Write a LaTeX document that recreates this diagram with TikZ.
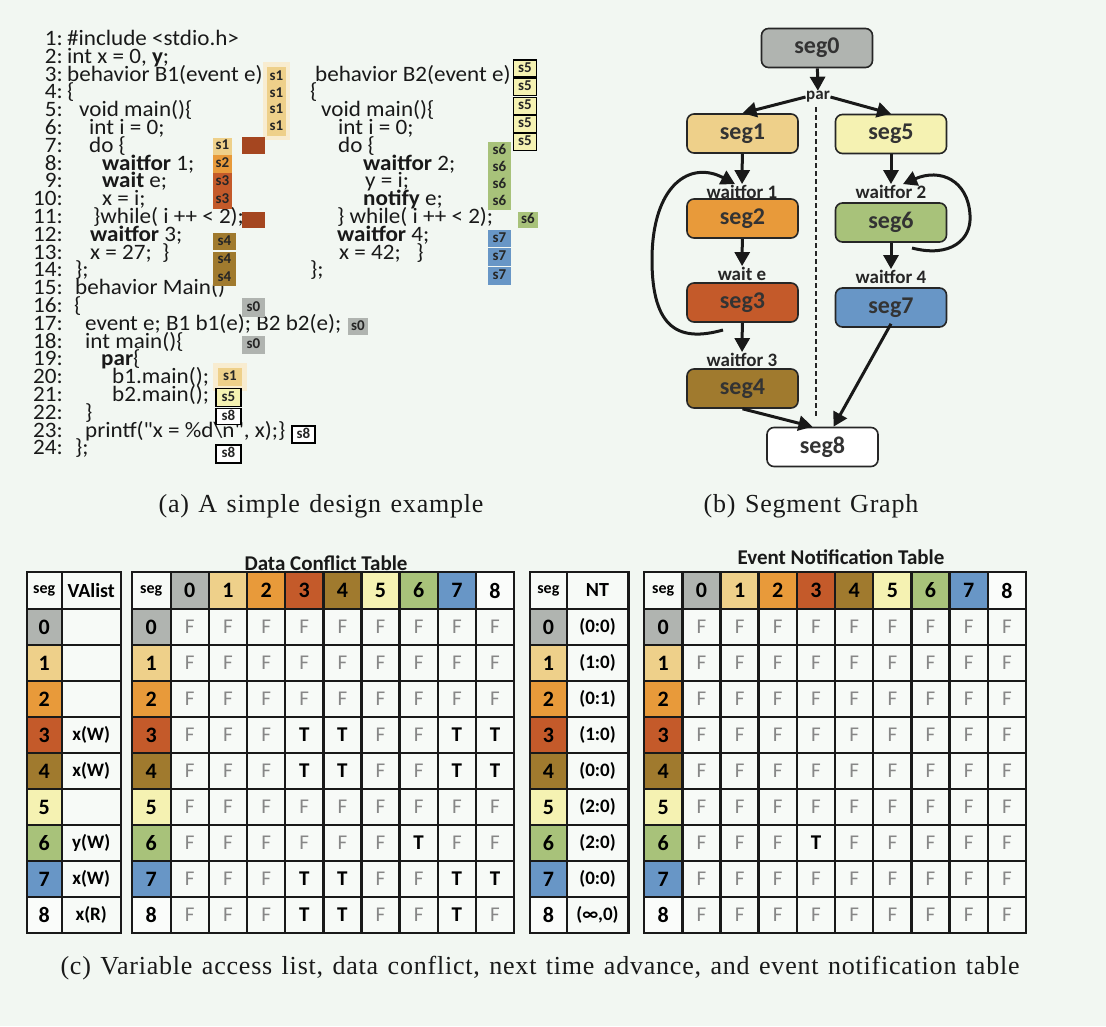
\documentclass[tikz,border=0pt]{standalone}
\usepackage{fontspec}
\setmainfont{Liberation Serif}
\newfontfamily\codef[FakeStretch=1.05]{Carlito}
\newfontfamily\carl{Carlito}
\newfontfamily\capf[LetterSpace=3,WordSpace={1.3}]{Liberation Serif}
\usetikzlibrary{arrows.meta}
\definecolor{sc0}{RGB}{176,180,176}
\definecolor{sc1}{RGB}{238,208,138}
\definecolor{sc2}{RGB}{232,154,58}
\definecolor{sc3}{RGB}{196,90,42}
\definecolor{sc4}{RGB}{160,122,46}
\definecolor{sc5}{RGB}{245,242,178}
\definecolor{sc6}{RGB}{168,194,122}
\definecolor{sc7}{RGB}{104,150,198}
\definecolor{sc8}{RGB}{250,252,250}
\definecolor{bgc}{RGB}{242,247,242}
\definecolor{cellbg}{RGB}{247,250,247}
\definecolor{brick}{RGB}{165,70,32}
\definecolor{fgray}{RGB}{135,135,135}
\newcommand\numf{\carl\bfseries\fontsize{22}{24}\selectfont}
\newcommand\segf{\carl\bfseries\fontsize{16}{18}\selectfont}
\newcommand\vaf{\carl\bfseries\fontsize{19}{21}\selectfont}
\newcommand\tff{\carl\fontsize{21}{23}\selectfont}
\newcommand\tfmark[1]{\if#1T\textbf{T}\else\textcolor{fgray}{F}\fi}
\begin{document}
\begin{tikzpicture}[x=1pt,y=-1pt,
  codeln/.style={anchor=west, inner sep=0pt, font=\codef\fontsize{22}{24}\selectfont, text=black!90, text height=12pt, text depth=3pt},
  lnum/.style={codeln, anchor=east},
  lab/.style={inner sep=0pt, font=\carl\bfseries\fontsize{15}{16}\selectfont, text=black!85, minimum width=19pt, minimum height=16pt, text height=8pt, text depth=1pt},
  labb/.style={lab, draw=black, line width=1.2pt},
  segbox/.style={draw=black!85, line width=1.6pt, rounded corners=7pt, minimum width=111pt, minimum height=39pt, font=\carl\bfseries\fontsize{24}{26}\selectfont, text=black!80},
  wlab/.style={inner sep=1pt, font=\carl\bfseries\fontsize{19}{20}\selectfont, text=black!85},
  arr/.style={line width=3pt, draw=black!90, -{Triangle[length=14pt,width=15pt]}},
  cell/.style={draw=black!90, line width=2.4pt, fill=cellbg, inner sep=0pt, minimum height=36pt},
  ttl/.style={font=\carl\bfseries\fontsize{21}{22}\selectfont, text=black!90},
  capt/.style={font=\capf\fontsize{26}{28}\selectfont, text=black!90}
]
\fill[bgc] (0,0) rectangle (1106,1026);
\useasboundingbox (0,0) rectangle (1106,1026);

% ---------- (a) code ----------
\foreach \n in {1,...,24} {
  \pgfmathsetmacro\yy{41+17.8*(\n-1)}
  \node[lnum] (ln\n) at (63,\yy) {\n:};
}
\node[codeln] (a1) at (67,41) {\#include <stdio.h>};
\node[codeln] (a2) at (67,58.8) {int x = 0, \textbf{y};};
\node[codeln] (a3) at (67,76.6) {behavior B1(event e)};
\node[codeln] (a4) at (67,94.4) {\{};
\node[codeln] (a5) at (79,112.2) {void main()\{};
\node[codeln] (a6) at (89,130) {int i = 0;};
\node[codeln] (a7) at (89,147.8) {do \{};
\node[codeln] (a8) at (102,165.6) {\textbf{waitfor} 1;};
\node[codeln] (a9) at (102,183.4) {\textbf{wait} e;};
\node[codeln] (a10) at (102,201.2) {x = i;};
\node[codeln] (a11) at (93,219) {\}while( i ++ < 2);};
\node[codeln] (a12) at (90,236.8) {\textbf{waitfor} 3;};
\node[codeln] (a13) at (90,254.6) {x = 27;\ \ \}};
\node[codeln] (a14) at (75,272.4) {\};};
\node[codeln] (a15) at (75,290.2) {behavior Main()};
\node[codeln] (a16) at (74,308) {\{};
\node[codeln] (a17) at (85,325.8) {event e; B1 b1(e); B2 b2(e);};
\node[codeln] (a18) at (85,343.6) {int main()\{};
\node[codeln] (a19) at (101,361.4) {\textbf{par}\{};
\node[codeln] (a20) at (112,379.2) {b1.main();};
\node[codeln] (a21) at (112,397) {b2.main();};
\node[codeln] (a22) at (85,414.8) {\}};
\node[codeln] (a23) at (85,432.6) {printf("x = \%d\textbackslash n", x);\}};
\node[codeln] (a24) at (75,450.4) {\};};

\node[codeln] (b3) at (315,76.6) {behavior B2(event e)};
\node[codeln] (b4) at (310,94.4) {\{};
\node[codeln] (b5) at (321,112.2) {void main()\{};
\node[codeln] (b6) at (338,130) {int i = 0;};
\node[codeln] (b7) at (338,147.8) {do \{};
\node[codeln] (b8) at (363,165.6) {\textbf{waitfor} 2;};
\node[codeln] (b9) at (365,183.4) {y = i;};
\node[codeln] (b10) at (363,201.2) {\textbf{notify} e;};
\node[codeln] (b11) at (337,219) {\} while( i ++ < 2);};
\node[codeln] (b12) at (337,236.8) {\textbf{waitfor} 4;};
\node[codeln] (b13) at (339,254.6) {x = 42;\ \ \ \}};
\node[codeln] (b14) at (310,272.4) {\};};

% segment labels
\fill[sc1!40] (263,62) rectangle (290,140);
\node[fill=sc1, minimum width=19pt, minimum height=69pt, inner sep=0pt] (s1strip) at (276.5,101.5) {};
\node[lab] (l1a) at (276.5,77) {s1};
\node[lab] (l1b) at (276.5,94) {s1};
\node[lab] (l1c) at (276.5,110) {s1};
\node[lab] (l1d) at (276.5,127) {s1};
\node[lab, fill=sc1, minimum height=17pt] (l1e) at (222.5,146) {s1};
\node[fill=brick, minimum width=23pt, minimum height=17pt, inner sep=0pt] (br1) at (253.5,145.5) {};
\node[lab, fill=sc2, minimum height=18pt] (l2) at (222.5,164) {s2};
\node[lab, fill=sc3, minimum height=18pt] (l3a) at (222.5,182) {s3};
\node[lab, fill=sc3, minimum height=18pt] (l3b) at (222.5,200) {s3};
\node[fill=brick, minimum width=23pt, minimum height=16pt, inner sep=0pt] (br2) at (253.5,220) {};
\node[lab, fill=sc4, minimum width=23pt, minimum height=17pt] (l4a) at (224.5,241.5) {s4};
\node[lab, fill=sc4, minimum width=23pt, minimum height=17pt] (l4b) at (224.5,260) {s4};
\node[lab, fill=sc4, minimum width=23pt, minimum height=17pt] (l4c) at (224.5,277.5) {s4};

\foreach \yy [count=\k] in {68.5,87,106,124,142} {
  \node[labb, fill=sc5, minimum width=23pt, minimum height=17pt] (l5\k) at (525,\yy) {s5};
}
\foreach \yy [count=\k] in {150.5,167.5,184.5,201.5} {
  \node[lab, fill=sc6, minimum width=23pt, minimum height=17pt] (l6\k) at (499.5,\yy) {s6};
}
\node[lab, fill=sc6, minimum width=20pt, minimum height=16pt] (l6e) at (528,220) {s6};
\foreach \yy [count=\k] in {238.5,257,276} {
  \node[lab, fill=sc7, minimum width=23pt, minimum height=17.5pt] (l7\k) at (499.5,\yy) {s7};
}
\node[lab, fill=sc0, minimum width=23pt, minimum height=19pt] (l0a) at (253.5,307.5) {s0};
\node[lab, fill=sc0, minimum width=20pt, minimum height=17pt] (l0b) at (358,326.5) {s0};
\node[lab, fill=sc0, minimum width=23pt, minimum height=18pt] (l0c) at (253.5,345) {s0};
\fill[sc1!40] (213,363) rectangle (247,391);
\node[lab, fill=sc1, minimum width=24pt, minimum height=18pt] (l1f) at (230,377) {s1};
\node[labb, fill=sc5, minimum width=25pt, minimum height=18pt] (l5f) at (228.5,397.5) {s5};
\node[labb, fill=white, minimum width=25pt, minimum height=16pt] (l8a) at (228.5,416.5) {s8};
\node[labb, fill=white, minimum width=23pt, minimum height=17pt] (l8b) at (303.5,434.5) {s8};
\node[labb, fill=white, minimum width=25pt, minimum height=18pt] (l8c) at (228.5,454) {s8};

\node[capt] (capa) at (321,506) {(a)\ A simple design example};

% ---------- (b) segment graph ----------
\coordinate (dt) at (816,107);
\coordinate (db) at (816,418);
\draw[line width=1.3pt, dash pattern=on 5pt off 3pt, black!85] (dt) -- (db);
\node[segbox, fill=sc0] (seg0) at (817,48) {seg0};
\node[wlab, font=\carl\bfseries\fontsize{17}{18}\selectfont, fill=bgc, inner sep=0.5pt] (par) at (818,97) {par};
\node[segbox, fill=sc1] (seg1) at (742.5,133.5) {seg1};
\node[segbox, fill=sc5] (seg5) at (891,134) {seg5};
\node[wlab] (w1) at (742,192) {waitfor 1};
\node[segbox, fill=sc2] (seg2) at (742.5,218.5) {seg2};
\node[wlab] (we) at (742,274) {wait e};
\node[segbox, fill=sc3] (seg3) at (742.5,302.5) {seg3};
\node[wlab] (w3) at (742,360) {waitfor 3};
\node[segbox, fill=sc4] (seg4) at (742.5,388.5) {seg4};
\node[wlab] (w2) at (891,192) {waitfor 2};
\node[segbox, fill=sc6] (seg6) at (891,222.5) {seg6};
\node[wlab] (w4) at (891,277) {waitfor 4};
\node[segbox, fill=sc7] (seg7) at (891,307.5) {seg7};
\node[segbox, fill=white] (seg8) at (822.5,447) {seg8};

\draw[arr] (seg0) -- (par);
\draw[arr] (par.west) -- (seg1.north);
\draw[arr] (par.east) -- (seg5.north);
\draw[arr] (seg1) -- (w1);
\draw[arr] (seg2) -- (we);
\draw[arr] (seg3) -- (w3);
\draw[arr] (seg5) -- (w2);
\draw[arr] (seg6) -- (w4);
\draw[arr] (seg4.south) -- ([xshift=-10pt]seg8.north);
\draw[arr] ([yshift=4pt]seg7.south) -- ([xshift=11pt]seg8.north);
\coordinate (lp3) at (723,330);
\draw[arr] (lp3) .. controls (680,342) and (652,330) .. (652,260) .. controls (652,185) and (690,160) .. ([xshift=-7pt]w1.north);
\coordinate (lp6) at (912,248);
\draw[arr] (lp6) .. controls (950,258) and (972,240) .. (970,215) .. controls (968,180) and (940,168) .. ([xshift=12pt]w2.north);

\node[capt] (capb) at (811,506) {(b)\ Segment Graph};

% ---------- (c) tables ----------
% VAlist table
\node[cell, minimum width=35pt, minimum height=37pt, font=\segf] (va-h0) at (44.2,590.5) {seg};
\node[cell, minimum width=59pt, minimum height=37pt, font=\carl\bfseries\fontsize{20}{22}\selectfont] (va-h1) at (91.2,590.5) {VAlist};
\foreach \r/\v in {0/{},1/{},2/{},3/{x(W)},4/{x(W)},5/{},6/{y(W)},7/{x(W)},8/{x(R)}} {
  \pgfmathsetmacro\yy{627+36*\r}
  \node[cell, fill=sc\r, minimum width=35pt, font=\numf] (va-s\r) at (44.2,\yy) {\r};
  \node[cell, minimum width=59pt, font=\vaf] (va-v\r) at (91.2,\yy) {\v};
}

% Data conflict table
\node[ttl] (dct) at (326,563) {Data Conflict Table};
\node[cell, minimum width=39pt, minimum height=37pt, font=\segf] (dc-h) at (151.2,590.5) {seg};
\foreach \c in {0,...,8} {
  \pgfmathsetmacro\xx{170.7+38.15*(\c+0.5)}
  \node[cell, fill=sc\c, minimum width=38.15pt, minimum height=37pt, font=\numf] (dc-h\c) at (\xx,590.5) {\c};
}
\foreach \r/\row in {0/{F,F,F,F,F,F,F,F,F},1/{F,F,F,F,F,F,F,F,F},2/{F,F,F,F,F,F,F,F,F},3/{F,F,F,T,T,F,F,T,T},4/{F,F,F,T,T,F,F,T,T},5/{F,F,F,F,F,F,F,F,F},6/{F,F,F,F,F,F,T,F,F},7/{F,F,F,T,T,F,F,T,T},8/{F,F,F,T,T,F,F,T,F}} {
  \pgfmathsetmacro\yy{627+36*\r}
  \node[cell, fill=sc\r, minimum width=39pt, font=\numf] (dc-s\r) at (151.2,\yy) {\r};
  \foreach \v [count=\c from 0] in \row {
    \pgfmathsetmacro\xx{170.7+38.15*(\c+0.5)}
    \node[cell, minimum width=38.15pt, font=\tff] (dc-\r-\c) at (\xx,\yy) {\tfmark{\v}};
  }
}

% NT table
\node[cell, minimum width=36.7pt, minimum height=37pt, font=\segf] (nt-h0) at (548.35,590.5) {seg};
\node[cell, minimum width=61.6pt, minimum height=37pt, font=\carl\bfseries\fontsize{20}{22}\selectfont] (nt-h1) at (597.5,590.5) {NT};
\foreach \r/\v in {0/{(0:0)},1/{(1:0)},2/{(0:1)},3/{(1:0)},4/{(0:0)},5/{(2:0)},6/{(2:0)},7/{(0:0)},8/{(∞,0)}} {
  \pgfmathsetmacro\yy{627+36*\r}
  \node[cell, fill=sc\r, minimum width=36.7pt, font=\numf] (nt-s\r) at (548.35,\yy) {\r};
  \node[cell, minimum width=61.6pt, font=\vaf] (nt-v\r) at (597.5,\yy) {\v};
}

% Event notification table
\node[ttl] (ent) at (841,557) {Event Notification Table};
\node[cell, minimum width=38.3pt, minimum height=37pt, font=\segf] (en-h) at (663.15,590.5) {seg};
\foreach \c in {0,...,8} {
  \pgfmathsetmacro\xx{682.3+38.19*(\c+0.5)}
  \node[cell, fill=sc\c, minimum width=38.19pt, minimum height=37pt, font=\numf] (en-h\c) at (\xx,590.5) {\c};
}
\foreach \r/\row in {0/{F,F,F,F,F,F,F,F,F},1/{F,F,F,F,F,F,F,F,F},2/{F,F,F,F,F,F,F,F,F},3/{F,F,F,F,F,F,F,F,F},4/{F,F,F,F,F,F,F,F,F},5/{F,F,F,F,F,F,F,F,F},6/{F,F,F,T,F,F,F,F,F},7/{F,F,F,F,F,F,F,F,F},8/{F,F,F,F,F,F,F,F,F}} {
  \pgfmathsetmacro\yy{627+36*\r}
  \node[cell, fill=sc\r, minimum width=38.3pt, font=\numf] (en-s\r) at (663.15,\yy) {\r};
  \foreach \v [count=\c from 0] in \row {
    \pgfmathsetmacro\xx{682.3+38.19*(\c+0.5)}
    \node[cell, minimum width=38.19pt, font=\tff] (en-\r-\c) at (\xx,\yy) {\tfmark{\v}};
  }
}

\node[capt] (capc) at (540,968) {(c)\ Variable access list, data conflict, next time advance, and event notification table};
\end{tikzpicture}
\end{document}
